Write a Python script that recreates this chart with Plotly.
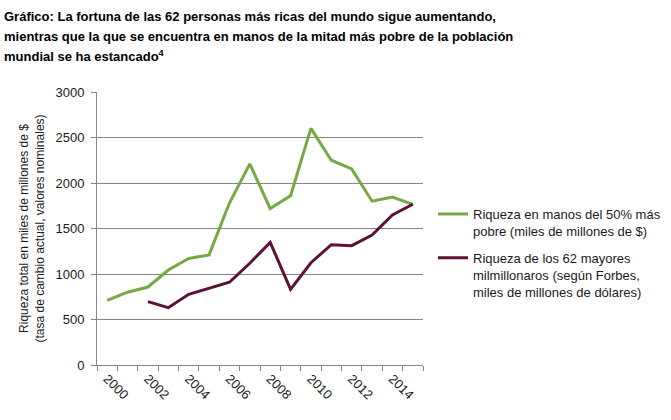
import plotly.graph_objects as go

# data
years = list(range(2000, 2016))
poorest_half = [710, 800, 857, 1044, 1170, 1210, 1780, 2210, 1720, 1860,
                2600, 2250, 2155, 1800, 1845, 1766]
years_top62 = list(range(2002, 2016))
top_62 = [696, 630, 777, 839, 909, 1118, 1348, 832, 1124, 1322,
          1311, 1429, 1649, 1766]

title_lines = [
    "Gráfico: La fortuna de las 62 personas más ricas del mundo sigue aumentando,",
    "mientras que la que se encuentra en manos de la mitad más pobre de la población",
    "mundial se ha estancado<sup>4</sup>",
]
name_poor = "Riqueza en manos del 50% más<br>pobre (miles de millones de $)"
name_top = ("Riqueza de los 62 mayores<br>milmillonaros (según Forbes,<br>"
            "miles de millones de dólares)")

W, H = 671, 420
L, R, T, B = 97, 248, 92, 55
plot_w = W - L - R
plot_h = H - T - B

green = "#77A843"
purple = "#5C1136"
font = "Arial, Liberation Sans, sans-serif"
txt = "#1a1a1a"


def px_x(x):
    return (x - L) / plot_w


def px_y(y):
    return (H - B - y) / plot_h


fig = go.Figure()
fig.add_trace(go.Scatter(
    x=years, y=poorest_half, mode="lines", name=name_poor,
    legendgroup="poor",
    line=dict(color=green, width=3),
))
fig.add_trace(go.Scatter(
    x=years_top62, y=top_62, mode="lines", name=name_top,
    legendgroup="top",
    line=dict(color=purple, width=3),
))

for i, line in enumerate(title_lines):
    fig.add_annotation(
        text=line, xref="paper", yref="paper",
        x=px_x(2), y=px_y(7 + 19.5 * i), xanchor="left", yanchor="top",
        showarrow=False, align="left",
        font=dict(family=font, size=13, color="#000000", weight="bold"),
    )

fig.update_layout(
    width=W, height=H,
    margin=dict(l=L, r=R, t=T, b=B, autoexpand=False),
    plot_bgcolor="white", paper_bgcolor="white",
    font=dict(family=font, size=12, color=txt),
    showlegend=True,
    legend=dict(
        x=px_x(433), y=px_y(199), xanchor="left", yanchor="top",
        valign="top", itemwidth=30, tracegroupgap=7,
        font=dict(family=font, size=13, color=txt),
        bgcolor="rgba(0,0,0,0)",
    ),
)

fig.update_xaxes(
    range=[1999.5, 2015.5], automargin=False,
    tickmode="array", tickvals=years[::2], ticktext=[str(y) for y in years[::2]],
    tickangle=45, ticks="", showgrid=False,
    showline=True, linecolor="#868686", linewidth=1,
    tickfont=dict(family=font, size=13, color=txt),
    minor=dict(tick0=1999.5, dtick=1, ticks="outside", ticklen=5,
               tickcolor="#868686", showgrid=False),
    zeroline=False,
)
fig.update_yaxes(
    range=[0, 3000], dtick=500, automargin=False,
    showgrid=True, gridcolor="#868686", gridwidth=1,
    showline=True, linecolor="#868686", linewidth=1,
    ticks="outside", ticklen=5, tickcolor="#868686",
    tickfont=dict(family=font, size=13, color=txt),
    ticklabelstandoff=4,
    zeroline=False,
    title=dict(
        text="Riqueza total en miles de millones de $<br>"
             "(tasa de cambio actual, valores nominales)",
        font=dict(family=font, size=12, color=txt),
        standoff=8,
    ),
)

# drop the default 8px body margin so the figure sits at the page origin
fig.write_html(
    "out.html",
    config={"displayModeBar": False},
    post_script="document.body.style.margin='0';",
)
